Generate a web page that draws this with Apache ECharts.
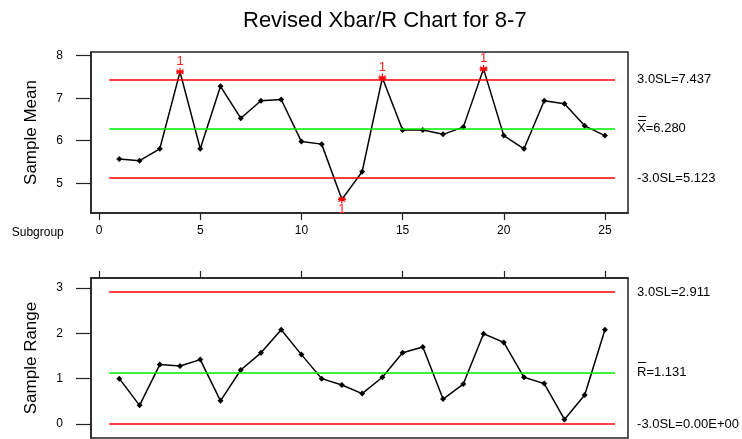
<!DOCTYPE html>
<html>
<head>
<meta charset="utf-8">
<script src="https://cdn.jsdelivr.net/npm/echarts@6/dist/echarts.min.js"></script>
<style>
html,body{margin:0;padding:0;background:#fff;}
#chart{width:742px;height:439px;}
</style>
</head>
<body>
<div id="chart"></div>
<script>
// ---- data ----
const subgroups = [1,2,3,4,5,6,7,8,9,10,11,12,13,14,15,16,17,18,19,20,21,22,23,24,25];
const meanValues = [5.57,5.53,5.81,7.62,5.81,7.28,6.53,6.94,6.97,5.98,5.92,4.62,5.27,7.48,6.25,6.25,6.15,6.32,7.69,6.12,5.81,6.94,6.87,6.35,6.12];
const rangeValues = [1.00,0.41,1.31,1.28,1.42,0.51,1.19,1.57,2.08,1.53,1.00,0.86,0.67,1.03,1.57,1.70,0.55,0.88,1.99,1.80,1.03,0.89,0.10,0.64,2.08];
const meanLimitValues = [7.437, 6.280, 5.123];      // UCL, CL, LCL
const meanLimitLabels = ['3.0SL=7.437', 'X=6.280', '-3.0SL=5.123'];
const rangeLimitValues = [2.911, 1.131, 0];
const rangeLimitLabels = ['3.0SL=2.911', 'R=1.131', '-3.0SL=0.00E+00'];
const limitSpan = [0.5, 25.5];
const xTicks = [0,5,10,15,20,25];
const meanTicks = [5,6,7,8];
const rangeTicks = [0,1,2,3];
const flagLabel = '1';

const FONT = 'Liberation Sans, Arial, sans-serif';
const frame = '#222';
const starPath = 'path://M0,-1L0,1M-0.87,-0.5L0.87,0.5M-0.87,0.5L0.87,-0.5M-1,0L1,0';

function pointData(vals, ucl, lcl) {
  return subgroups.map((s, i) => {
    const v = vals[i];
    const out = v > ucl || v < lcl;
    if (!out) return { value: [s, v] };
    return {
      value: [s, v],
      symbol: starPath,
      symbolSize: 8,
      itemStyle: { color: 'none', borderColor: '#ff0000', borderWidth: 1.2 },
      label: {
        show: true, formatter: flagLabel, color: '#ff2020', fontSize: 13, fontFamily: FONT,
        position: v > ucl ? 'top' : 'bottom', distance: -3
      }
    };
  });
}

function limitLines(values, labels) {
  const colors = ['#ff0000', '#00ee00', '#ff0000'];
  return values.map((v, i) => [
    { coord: [limitSpan[0], v], lineStyle: { color: colors[i], width: 1.5, type: 'solid' },
      label: { show: true, position: 'end', distance: 22, formatter: labels[i], color: '#000', fontSize: 13, fontFamily: FONT } },
    { coord: [limitSpan[1], v] }
  ]);
}

function xAxisCfg(gi, pos, showLabels) {
  return {
    gridIndex: gi, type: 'value', position: pos, min: -0.4, max: 26.14,
    axisLine: { show: true, onZero: false, lineStyle: { color: frame, width: 1.5 } },
    splitLine: { show: false },
    axisTick: { show: true, inside: false, length: 7, customValues: xTicks, lineStyle: { color: frame, width: 1.2 } },
    axisLabel: { show: showLabels, customValues: xTicks, color: '#000', fontSize: 12, fontFamily: FONT, margin: 12 }
  };
}
function yAxisCfg(gi, min, max, ticks, name) {
  return {
    gridIndex: gi, type: 'value', min: min, max: max, position: 'left',
    name: name, nameLocation: 'middle', nameGap: 51,
    nameTextStyle: { color: '#000', fontSize: 17, fontFamily: FONT },
    axisLine: { show: true, onZero: false, lineStyle: { color: frame, width: 1.5 } },
    splitLine: { show: false },
    axisTick: { show: true, length: 15, customValues: ticks, lineStyle: { color: frame, width: 1.2 } },
    axisLabel: { customValues: ticks, color: '#000', fontSize: 12, fontFamily: FONT, margin: 28 }
  };
}

const chart = echarts.init(document.getElementById('chart'));
const option = {
  animation: false,
  backgroundColor: '#fff',
  title: {
    text: 'Revised Xbar/R Chart for 8-7', left: 238, top: 5,
    textStyle: { fontSize: 22, fontWeight: 'normal', color: '#000', fontFamily: FONT }
  },
  grid: [
    { left: 91, top: 52, width: 537, height: 161, show: true, borderColor: frame, borderWidth: 1.5, backgroundColor: 'transparent' },
    { left: 91, top: 278, width: 537, height: 160, show: true, borderColor: frame, borderWidth: 1.5, backgroundColor: 'transparent' }
  ],
  xAxis: [xAxisCfg(0, 'bottom', true), xAxisCfg(1, 'top', false)],
  yAxis: [
    yAxisCfg(0, 4.30, 8.087, meanTicks, 'Sample Mean'),
    yAxisCfg(1, -0.31, 3.221, rangeTicks, 'Sample Range')
  ],
  series: [
    {
      type: 'line', xAxisIndex: 0, yAxisIndex: 0,
      data: pointData(meanValues, meanLimitValues[0], meanLimitValues[2]),
      symbol: 'diamond', symbolSize: 6,
      lineStyle: { color: '#000', width: 1.5 }, itemStyle: { color: '#000' },
      markLine: { silent: true, symbol: 'none', data: limitLines(meanLimitValues, meanLimitLabels) },
      z: 3
    },
    {
      type: 'line', xAxisIndex: 1, yAxisIndex: 1,
      data: pointData(rangeValues, rangeLimitValues[0], -1),
      symbol: 'diamond', symbolSize: 6,
      lineStyle: { color: '#000', width: 1.5 }, itemStyle: { color: '#000' },
      markLine: { silent: true, symbol: 'none', data: limitLines(rangeLimitValues, rangeLimitLabels) },
      z: 3
    }
  ]
};
chart.setOption(option);

// overline bars for X-double-bar and R-bar, and "Subgroup" label
const p0 = chart.convertToPixel({ gridIndex: 0 }, [limitSpan[1], meanLimitValues[1]]);
const p1 = chart.convertToPixel({ gridIndex: 1 }, [limitSpan[1], rangeLimitValues[1]]);
const lx = p0[0] + 22.6;
const bar = (y) => ({ type: 'line', shape: { x1: lx + 0.5, y1: y, x2: lx + 8.5, y2: y }, style: { stroke: '#000', lineWidth: 1 } });
const xl = chart.convertToPixel({ gridIndex: 0 }, [0, 4.30]);
chart.setOption({
  graphic: [
    bar(Math.round(p0[1] - 12.4) + 0.5),
    bar(Math.round(p0[1] - 9) + 0.5),
    bar(Math.round(p1[1] - 11) + 0.5),
    { type: 'text', x: 11.7, y: xl[1] + 19.3, style: { text: 'Subgroup', fill: '#000', fontSize: 12, fontFamily: FONT, textVerticalAlign: 'middle' } }
  ]
});
</script>
</body>
</html>
